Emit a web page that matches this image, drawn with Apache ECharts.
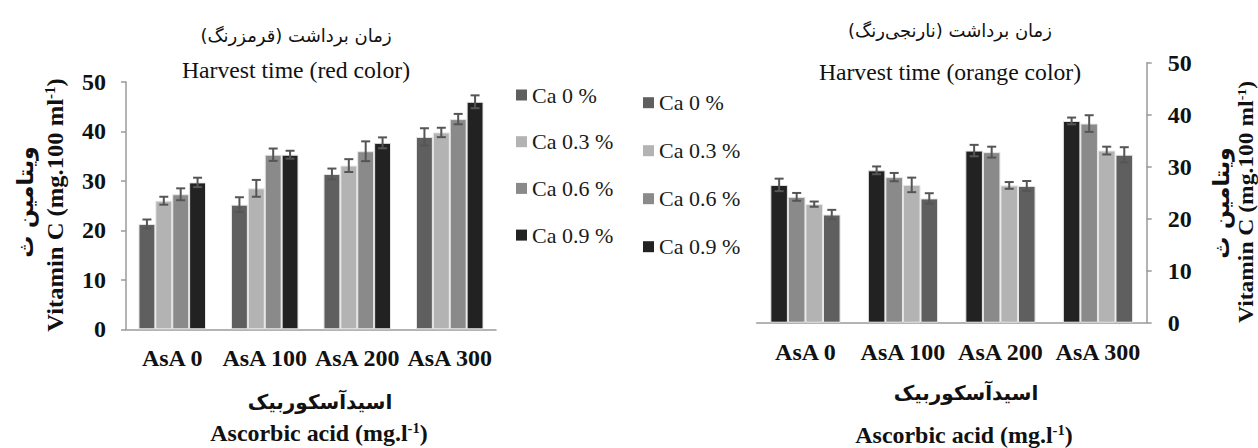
<!DOCTYPE html>
<html><head><meta charset="utf-8">
<script src="https://cdn.jsdelivr.net/npm/echarts@6/dist/echarts.min.js"></script>
<style>html,body{margin:0;padding:0;background:#fff}#c{width:1258px;height:448px}</style>
</head><body><div id="c"></div>
<script>
// ---- data ----
const categories = ['AsA 0', 'AsA 100', 'AsA 200', 'AsA 300'];
const seriesNames = ['Ca 0 %', 'Ca 0.3 %', 'Ca 0.6 %', 'Ca 0.9 %'];
const yTicks = [0, 50, 10]; // min, max, interval

// red colour harvest (left chart)
const redCa0 = [21.3, 25.2, 31.4, 38.9];
const redCa0Err = [0.9, 1.5, 1.1, 1.75];
const redCa03 = [26.0, 28.5, 33.1, 39.8];
const redCa03Err = [0.8, 1.7, 1.3, 0.95];
const redCa06 = [27.3, 35.3, 36.0, 42.5];
const redCa06Err = [1.2, 1.25, 2.0, 1.05];
const redCa09 = [29.7, 35.3, 37.7, 46.0];
const redCa09Err = [0.95, 0.8, 1.1, 1.3];

// orange colour harvest (right chart)
const orgCa0 = [20.8, 23.9, 26.3, 32.3];
const orgCa0Err = [0.9, 1.0, 0.95, 1.45];
const orgCa03 = [22.8, 26.5, 26.4, 33.1];
const orgCa03Err = [0.5, 1.4, 0.65, 0.75];
const orgCa06 = [24.2, 28.0, 32.8, 38.3];
const orgCa06Err = [0.75, 0.8, 1.05, 1.6];
const orgCa09 = [26.5, 29.3, 33.1, 38.8];
const orgCa09Err = [1.2, 0.75, 1.1, 0.65];

const colors = {'Ca 0 %': '#5f5f5f', 'Ca 0.3 %': '#b3b3b3', 'Ca 0.6 %': '#8a8a8a', 'Ca 0.9 %': '#222222'};

// ---- chart ----
const SERIF = "'Liberation Serif', 'Times New Roman', serif";
const FA = "'DejaVu Sans', sans-serif";
const RLM = '\u200F';
const gapL = 0.27, gapR = 0.28;

function errRender(pos, gap) {
  return function (params, api) {
    const idx = api.value(0), v = api.value(1), e = api.value(2);
    const catW = api.size([1, 0])[0];
    const bw = catW * (1 - gap) / 4;
    const x = api.coord([idx, v])[0] + (pos - 1.5) * bw;
    const yT = api.coord([idx, v + e])[1];
    const yB = api.coord([idx, v - e])[1];
    const hw = 4.5;
    const style = {stroke: '#555', lineWidth: 2};
    return {type: 'group', children: [
      {type: 'line', shape: {x1: x, y1: yT, x2: x, y2: yB}, style},
      {type: 'line', shape: {x1: x - hw, y1: yT, x2: x + hw, y2: yT}, style},
      {type: 'line', shape: {x1: x - hw, y1: yB, x2: x + hw, y2: yB}, style}
    ]};
  };
}

function bar(name, data, gi, gap) {
  return {
    type: 'bar', name, data, xAxisIndex: gi, yAxisIndex: gi,
    barGap: '0%', barCategoryGap: (gap * 100) + '%',
    itemStyle: {color: colors[name], borderColor: '#e6e6e6', borderWidth: 1},
    z: 2
  };
}
function err(vals, errs, gi, pos, gap) {
  return {
    type: 'custom', xAxisIndex: gi, yAxisIndex: gi, z: 5, silent: true,
    renderItem: errRender(pos, gap),
    encode: {x: 0, y: 1},
    data: vals.map((v, i) => [i, v, errs[i]])
  };
}

const left = [[redCa0, redCa0Err, 'Ca 0 %'], [redCa03, redCa03Err, 'Ca 0.3 %'], [redCa06, redCa06Err, 'Ca 0.6 %'], [redCa09, redCa09Err, 'Ca 0.9 %']];
const right = [[orgCa09, orgCa09Err, 'Ca 0.9 %'], [orgCa06, orgCa06Err, 'Ca 0.6 %'], [orgCa03, orgCa03Err, 'Ca 0.3 %'], [orgCa0, orgCa0Err, 'Ca 0 %']];

const series = [];
left.forEach((s) => series.push(bar(s[2], s[0], 0, gapL)));
right.forEach((s) => series.push(bar(s[2], s[0], 1, gapR)));
left.forEach((s, i) => series.push(err(s[0], s[1], 0, i, gapL)));
right.forEach((s, i) => series.push(err(s[0], s[1], 1, i, gapR)));

const axisLineStyle = {color: '#9a9a9a', width: 1.5};
function xAx(gi) {
  return {
    type: 'category', gridIndex: gi, data: categories,
    axisLine: {lineStyle: axisLineStyle}, axisTick: {show: false},
    axisLabel: {interval: 0, margin: 17, fontFamily: SERIF, fontWeight: 'bold', fontSize: 24, color: '#111'}
  };
}
function yAx(gi, pos, margin) {
  return {
    type: 'value', gridIndex: gi, position: pos, min: yTicks[0], max: yTicks[1], interval: yTicks[2],
    splitLine: {show: false},
    axisLine: {show: true, lineStyle: axisLineStyle},
    axisTick: {show: true, length: 5, lineStyle: axisLineStyle},
    axisLabel: {margin, fontFamily: SERIF, fontWeight: 'bold', fontSize: 24, color: '#111'}
  };
}

function legend(left, top, gap) {
  return {
    data: seriesNames, orient: 'vertical', left, top, padding: 0, itemGap: gap,
    icon: 'rect', itemWidth: 11, itemHeight: 11, selectedMode: false,
    itemStyle: {borderWidth: 0},
    textStyle: {fontFamily: SERIF, fontSize: 22, lineHeight: 22, color: '#1a1a1a'}
  };
}

function txt(x, y, text, font, el) {
  return Object.assign({
    type: 'text', x, y,
    style: {text, font, fill: '#111', textAlign: 'center', textVerticalAlign: 'middle'}
  }, el || {});
}
function richTxt(x, y, pre, sup, post, size, el) {
  return Object.assign({
    type: 'text', x, y,
    style: {
      text: '{b|' + pre + '}{s|' + sup + '}{b|' + post + '}',
      textAlign: 'center', textVerticalAlign: 'middle',
      rich: {
        b: {fontFamily: SERIF, fontWeight: 'bold', fontSize: size, lineHeight: size, fill: '#111'},
        s: {fontFamily: SERIF, fontWeight: 'bold', fontSize: Math.round(size * 0.6), lineHeight: Math.round(size * 0.6), verticalAlign: 'top', fill: '#111'}
      }
    }
  }, el || {});
}

const ROT = {rotation: Math.PI / 2};
const ROTS = {rotation: Math.PI / 2, scaleX: 1.07};
const graphic = [
  // left titles
  txt(296, 35, 'زمان برداشت (قرمزرنگ)' + RLM, '18px ' + FA),
  txt(296, 70, 'Harvest time (red color)', '23px ' + SERIF, {scaleX: 1.03}),
  // right titles
  txt(950, 30, 'زمان برداشت (نارنجی‌رنگ)' + RLM, '18px ' + FA),
  txt(950, 72, 'Harvest time (orange color)', '23px ' + SERIF, {scaleX: 1.03}),
  // left y titles
  txt(25, 202, 'ویتامین ث' + RLM, 'bold 22px ' + FA, ROT),
  richTxt(55, 205, 'Vitamin C (mg.100 ml', '-1', ')', 23, ROTS),
  // right y titles
  txt(1221, 203, 'ویتامین ث' + RLM, 'bold 22px ' + FA, ROT),
  richTxt(1246, 202, 'Vitamin C (mg.100 ml', '-1', ')', 22, ROTS),
  // x titles
  txt(320, 402, 'اسیدآسکوربیک' + RLM, 'bold 20px ' + FA),
  richTxt(319, 433, 'Ascorbic acid (mg.l', '-1', ')', 23, {scaleX: 1.04}),
  txt(966, 393, 'اسیدآسکوربیک' + RLM, 'bold 20px ' + FA),
  richTxt(964, 435, 'Ascorbic acid (mg.l', '-1', ')', 23, {scaleX: 1.04})
];

const chart = echarts.init(document.getElementById('c'), null, {renderer: 'svg'});
chart.setOption({
  backgroundColor: '#fff',
  animation: false,
  grid: [
    {left: 126, top: 82, width: 370, height: 247.3},
    {left: 756.7, top: 62.7, width: 390, height: 260}
  ],
  xAxis: [xAx(0), xAx(1)],
  yAxis: [yAx(0, 'left', 20), yAx(1, 'right', 21)],
  legend: [legend(516, 84, 24.7), legend(643, 91.7, 26)],
  series,
  graphic
});
</script></body></html>
